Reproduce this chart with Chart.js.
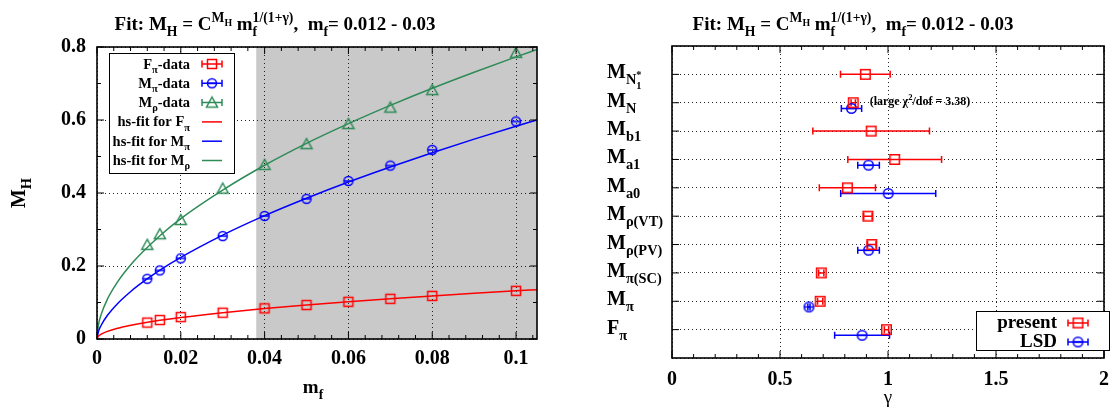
<!DOCTYPE html>
<html>
<head>
<meta charset="utf-8">
<script src="https://cdn.jsdelivr.net/npm/chart.js@4.4.0/dist/chart.umd.min.js"></script>
<style>
  html, body { margin: 0; padding: 0; background: #fff; }
  #wrap { position: relative; width: 1119px; height: 417px; }
  canvas { position: absolute; top: 0; }
</style>
</head>
<body>
<div id="wrap">
  <canvas id="left" width="560" height="417" style="left:0"></canvas>
  <canvas id="right" width="559" height="417" style="left:560px"></canvas>
</div>
<script>
const FONT = '"Liberation Serif", "Times New Roman", serif';

// ---- left panel: M_H vs m_f ----
const titleText = 'Fit: M_H = C^{M_H} m_f^{1/(1+γ)},  m_f= 0.012 - 0.03';
const massX = [0.012, 0.015, 0.02, 0.03, 0.04, 0.05, 0.06, 0.07, 0.08, 0.1];
const fPiData = [0.045, 0.052, 0.060, 0.072, 0.084, 0.093, 0.102, 0.110, 0.118, 0.132];
const mPiData = [0.165, 0.188, 0.221, 0.282, 0.337, 0.384, 0.433, 0.475, 0.518, 0.596];
const mRhoData = [0.258, 0.287, 0.326, 0.412, 0.477, 0.534, 0.589, 0.634, 0.682, 0.784];

// fit curves
const fitX = [0, 0.0003, 0.001, 0.0025, 0.005, 0.0075, 0.01, 0.015, 0.02, 0.03, 0.04, 0.05, 0.06, 0.07, 0.08, 0.09, 0.1, 0.105];
const fitFPi = [0, 0.0072, 0.0132, 0.0209, 0.0295, 0.0361, 0.0417, 0.0511, 0.0590, 0.0722, 0.0834, 0.0932, 0.1021, 0.1103, 0.1179, 0.1251, 0.1319, 0.1351];
const fitMPi = [0, 0.0184, 0.0376, 0.0649, 0.0981, 0.1248, 0.1481, 0.1885, 0.2237, 0.2847, 0.3379, 0.3856, 0.4301, 0.4714, 0.5104, 0.5476, 0.583, 0.600];
const fitMRho = [0, 0.0356, 0.0674, 0.1095, 0.1581, 0.196, 0.228, 0.283, 0.330, 0.408, 0.476, 0.536, 0.590, 0.640, 0.687, 0.731, 0.773, 0.793];
const shadeFrom = 0.038;

// ---- right panel: gamma per channel ----
const gammaLabels = ['M_{N_1^*}', 'M_N', 'M_{b1}', 'M_{a1}', 'M_{a0}', 'M_{ρ(VT)}', 'M_{ρ(PV)}', 'M_{π(SC)}', 'M_π', 'F_π'];
const presentGamma = [0.895, 0.839, 0.922, 1.031, 0.812, 0.907, 0.925, 0.691, 0.686, 0.993];
const presentErr = [0.115, 0.010, 0.270, 0.217, 0.130, 0.020, 0.020, 0.012, 0.012, 0.010];
const lsdGamma = [null, 0.831, null, 0.910, 1.001, null, 0.910, null, 0.634, 0.880];
const lsdErr = [null, 0.047, null, 0.050, 0.220, null, 0.050, null, 0.005, 0.127];
const chiNote = '(large χ^2/dof = 3.38)';

// tiny gnuplot-like markup: _x ^x _{..} ^{..}
function parseRich(s) {
  const out = [];
  let i = 0;
  function group(mode) {
    while (i < s.length) {
      const c = s[i];
      if (c === '}') { i++; return; }
      if (c === '_' || c === '^') {
        i++;
        const m = mode.concat(c === '_' ? 'sub' : 'sup');
        if (s[i] === '{') { i++; group(m); }
        else { out.push({ t: s[i], m }); i++; }
        continue;
      }
      const last = out[out.length - 1];
      if (last && last.m.join() === mode.join() && last.open) last.t += c;
      else out.push({ t: c, m: mode, open: true });
      i++;
    }
  }
  group([]);
  return out;
}

function drawRich(ctx, s, x, y, size, align, weight) {
  const parts = parseRich(s);
  const placed = [];
  let cx = 0, prev = null;
  for (const p of parts) {
    let sz = size, dy = 0;
    for (const m of p.m) {
      if (m === 'sub') dy += 0.3 * sz; else dy -= 0.42 * sz;
      sz *= 0.72;
    }
    ctx.font = `${weight} ${sz}px ${FONT}`;
    const w = ctx.measureText(p.t).width;
    let sx = cx;
    if (prev && p.m[p.m.length - 1] === 'sup' && prev.m[prev.m.length - 1] === 'sub' &&
        p.m.slice(0, -1).join() === prev.m.slice(0, -1).join()) sx = prev.x;
    const item = { t: p.t, m: p.m, x: sx, dy, sz };
    placed.push(item);
    cx = Math.max(cx, sx + w);
    prev = item;
  }
  const ox = align === 'center' ? x - cx / 2 : align === 'right' ? x - cx : x;
  ctx.textAlign = 'left';
  ctx.textBaseline = 'alphabetic';
  for (const p of placed) {
    ctx.font = `${weight} ${p.sz}px ${FONT}`;
    ctx.fillText(p.t, ox + p.x, y + p.dy);
  }
  return cx;
}

function marker(kind, color, size, lw) {
  const c = document.createElement('canvas');
  const W = Math.ceil(size + lw * 2 + 2);
  c.width = W; c.height = W;
  const g = c.getContext('2d');
  g.strokeStyle = color; g.lineWidth = lw;
  const m = W / 2, h = size / 2;
  g.beginPath();
  if (kind === 'square') g.rect(m - h, m - h, size, size);
  if (kind === 'circle') { g.arc(m, m, h, 0, Math.PI * 2); g.moveTo(m - h, m); g.lineTo(m + h, m); }
  if (kind === 'triangle') { g.moveTo(m - h, m + h * 0.8); g.lineTo(m + h, m + h * 0.8); g.lineTo(m, m - h); g.closePath(); }
  g.stroke();
  return c;
}

// frame + inward ticks on all four sides
function frame(ctx, a, xt, yt) {
  ctx.save();
  ctx.strokeStyle = '#000';
  ctx.lineWidth = 1;
  ctx.beginPath();
  for (const [px, major] of xt) {
    const L = major ? 7 : 4;
    ctx.moveTo(px, a.bottom); ctx.lineTo(px, a.bottom - L);
    ctx.moveTo(px, a.top); ctx.lineTo(px, a.top + L);
  }
  for (const [py, major] of yt) {
    const L = major ? 7 : 4;
    ctx.moveTo(a.left, py); ctx.lineTo(a.left + L, py);
    ctx.moveTo(a.right, py); ctx.lineTo(a.right - L, py);
  }
  ctx.stroke();
  ctx.lineWidth = 1.6;
  ctx.strokeRect(a.left, a.top, a.right - a.left, a.bottom - a.top);
  ctx.restore();
}

function errBar(ctx, x1, x2, y, cap) {
  ctx.moveTo(x1, y); ctx.lineTo(x2, y);
  ctx.moveTo(x1, y - cap); ctx.lineTo(x1, y + cap);
  ctx.moveTo(x2, y - cap); ctx.lineTo(x2, y + cap);
}

const tickFont = { family: FONT, size: 20, weight: 'bold' };
const tickText = v => String(Math.round(v * 1000) / 1000);
const gridCommon = { color: '#222', lineWidth: 1, drawTicks: false };
const dotted = { display: false, dash: [1, 3] };

// ---------------- left chart ----------------
const leftDecor = {
  id: 'leftDecor',
  beforeDraw(chart) {
    const { ctx, chartArea: a, scales: { x } } = chart;
    const x0 = x.getPixelForValue(shadeFrom);
    ctx.save();
    ctx.fillStyle = '#c9c9c9';
    ctx.fillRect(x0, a.top, a.right - x0, a.bottom - a.top);
    ctx.restore();
  },
  afterDraw(chart) {
    const { ctx, chartArea: a, scales: { x, y } } = chart;
    const xt = [], yt = [];
    for (let k = 0; k * 0.004 <= x.max + 1e-9; k++) xt.push([x.getPixelForValue(k * 0.004), k % 5 === 0]);
    for (let k = 0; k <= 8; k++) yt.push([y.getPixelForValue(k * 0.1), k % 2 === 0]);
    frame(ctx, a, xt, yt);

    // key box
    ctx.save();
    ctx.fillStyle = '#fff';
    ctx.fillRect(109, 53, 125, 120);
    ctx.strokeStyle = '#000';
    ctx.lineWidth = 1;
    ctx.strokeRect(109.5, 53.5, 125, 120);
    chart.data.datasets.forEach((ds, i) => {
      const by = 68.5 + 19.3 * i;
      ctx.fillStyle = '#000';
      drawRich(ctx, ds.label, 190, by, 14.5, 'right', 'bold');
      const cy = by - 4.5;
      ctx.strokeStyle = ds.borderColor;
      ctx.lineWidth = 1.5;
      ctx.beginPath();
      if (ds.showLine) { ctx.moveTo(202, cy); ctx.lineTo(222, cy); }
      else errBar(ctx, 202, 222, cy, 3.5);
      ctx.stroke();
      if (!ds.showLine) {
        const img = ds.pointStyle;
        ctx.drawImage(img, 212 - img.width / 2, cy - img.height / 2);
      }
    });
    ctx.restore();

    ctx.fillStyle = '#000';
    drawRich(ctx, titleText, 275, 30, 19, 'center', 'bold');
    drawRich(ctx, 'm_f', (a.left + a.right) / 2 - 4, 393, 19, 'center', 'bold');
    ctx.save();
    ctx.translate(25, (a.top + a.bottom) / 2);
    ctx.rotate(-Math.PI / 2);
    drawRich(ctx, 'M_H', 0, 0, 20, 'center', 'bold');
    ctx.restore();
  }
};

function pts(xs, ys) { return xs.map((v, i) => ({ x: v, y: ys[i] })); }

new Chart(document.getElementById('left'), {
  type: 'scatter',
  data: {
    datasets: [
      { label: 'F_π-data', data: pts(massX, fPiData), borderColor: '#ff0000', pointStyle: marker('square', '#ff0000', 9, 1.5), pointRadius: 5 },
      { label: 'M_π-data', data: pts(massX, mPiData), borderColor: '#0000ff', pointStyle: marker('circle', '#0000ff', 9, 1.5), pointRadius: 5 },
      { label: 'M_ρ-data', data: pts(massX, mRhoData), borderColor: '#2e8b57', pointStyle: marker('triangle', '#2e8b57', 11, 1.5), pointRadius: 5 },
      { label: 'hs-fit for F_π', data: pts(fitX, fitFPi), showLine: true, borderColor: '#ff0000', borderWidth: 1.5, pointRadius: 0, cubicInterpolationMode: 'monotone' },
      { label: 'hs-fit for M_π', data: pts(fitX, fitMPi), showLine: true, borderColor: '#0000ff', borderWidth: 1.5, pointRadius: 0, cubicInterpolationMode: 'monotone' },
      { label: 'hs-fit for M_ρ', data: pts(fitX, fitMRho), showLine: true, borderColor: '#2e8b57', borderWidth: 1.5, pointRadius: 0, cubicInterpolationMode: 'monotone' }
    ]
  },
  options: {
    responsive: false,
    animation: false,
    events: [],
    layout: { padding: { left: 0, right: 23, top: 47, bottom: 0 } },
    plugins: { legend: { display: false }, tooltip: { enabled: false } },
    scales: {
      x: {
        type: 'linear', min: 0, max: 0.105,
        ticks: { stepSize: 0.02, includeBounds: false, padding: 8, color: '#000', font: tickFont, maxRotation: 0, callback: tickText },
        grid: gridCommon, border: dotted,
        afterFit: s => { s.height = 78; }
      },
      y: {
        type: 'linear', min: 0, max: 0.8,
        ticks: { stepSize: 0.2, padding: 11, color: '#000', font: tickFont, callback: tickText },
        grid: gridCommon, border: dotted,
        afterFit: s => { s.width = 97; }
      }
    }
  },
  plugins: [leftDecor]
});

// ---------------- right chart ----------------
const rightDecor = {
  id: 'rightDecor',
  beforeDatasetsDraw(chart) {
    const { ctx, scales: { x, y } } = chart;
    ctx.save();
    ctx.lineWidth = 1.5;
    chart.data.datasets.forEach(ds => {
      ctx.strokeStyle = ds.borderColor;
      ctx.beginPath();
      ds.data.forEach(p => {
        errBar(ctx, x.getPixelForValue(p.x - p.err), x.getPixelForValue(p.x + p.err), y.getPixelForValue(p.y), 3.5);
      });
      ctx.stroke();
    });
    ctx.restore();
  },
  afterDraw(chart) {
    const { ctx, chartArea: a, scales: { x, y } } = chart;
    const xt = [], yt = [];
    for (let k = 0; k <= 20; k++) xt.push([x.getPixelForValue(k * 0.1), k % 5 === 0]);
    for (let k = 1; k <= gammaLabels.length; k++) yt.push([y.getPixelForValue(k), true]);
    frame(ctx, a, xt, yt);

    ctx.fillStyle = '#000';
    gammaLabels.forEach((lab, i) => {
      drawRich(ctx, lab, 47, y.getPixelForValue(i + 1) + 4, 20, 'left', 'bold');
    });
    drawRich(ctx, chiNote, x.getPixelForValue(0.915), y.getPixelForValue(2) + 2, 12, 'left', 'bold');

    // key box
    ctx.save();
    ctx.fillStyle = '#fff';
    ctx.fillRect(416, 311, 133, 39);
    ctx.strokeStyle = '#000';
    ctx.lineWidth = 1;
    ctx.strokeRect(416.5, 311.5, 133, 39);
    chart.data.datasets.forEach((ds, i) => {
      const by = 328 + 19 * i;
      ctx.fillStyle = '#000';
      drawRich(ctx, ds.label, 497, by, 19, 'right', 'bold');
      const cy = by - 5;
      ctx.strokeStyle = ds.borderColor;
      ctx.lineWidth = 1.5;
      ctx.beginPath();
      errBar(ctx, 508, 528, cy, 3.5);
      ctx.stroke();
      const img = ds.pointStyle;
      ctx.drawImage(img, 518 - img.width / 2, cy - img.height / 2);
    });
    ctx.restore();

    ctx.fillStyle = '#000';
    drawRich(ctx, titleText, 293, 30, 19, 'center', 'bold');
    drawRich(ctx, 'γ', (a.left + a.right) / 2, 403, 19, 'center', 'normal');
  }
};

const presentPts = presentGamma.map((g, i) => ({ x: g, y: i + 1, err: presentErr[i] }));
const lsdPts = [];
lsdGamma.forEach((g, i) => { if (g !== null) lsdPts.push({ x: g, y: i + 1.2, err: lsdErr[i] }); });

new Chart(document.getElementById('right'), {
  type: 'scatter',
  data: {
    datasets: [
      { label: 'present', data: presentPts, borderColor: '#ff0000', pointStyle: marker('square', '#ff0000', 9.5, 1.5), pointRadius: 5 },
      { label: 'LSD', data: lsdPts, borderColor: '#0000ff', pointStyle: marker('circle', '#0000ff', 9.5, 1.5), pointRadius: 5 }
    ]
  },
  options: {
    responsive: false,
    animation: false,
    events: [],
    layout: { padding: { left: 0, right: 9, top: 46, bottom: 0 } },
    plugins: { legend: { display: false }, tooltip: { enabled: false } },
    scales: {
      x: {
        type: 'linear', min: 0, max: 2,
        ticks: { stepSize: 0.5, includeBounds: false, padding: 10, color: '#000', font: tickFont, maxRotation: 0, callback: tickText },
        grid: gridCommon, border: dotted,
        afterFit: s => { s.height = 59; }
      },
      y: {
        type: 'linear', min: 0, max: gammaLabels.length + 1, reverse: true,
        ticks: { stepSize: 1, display: false },
        grid: gridCommon, border: dotted,
        afterFit: s => { s.width = 112; }
      }
    }
  },
  plugins: [rightDecor]
});
</script>
</body>
</html>
